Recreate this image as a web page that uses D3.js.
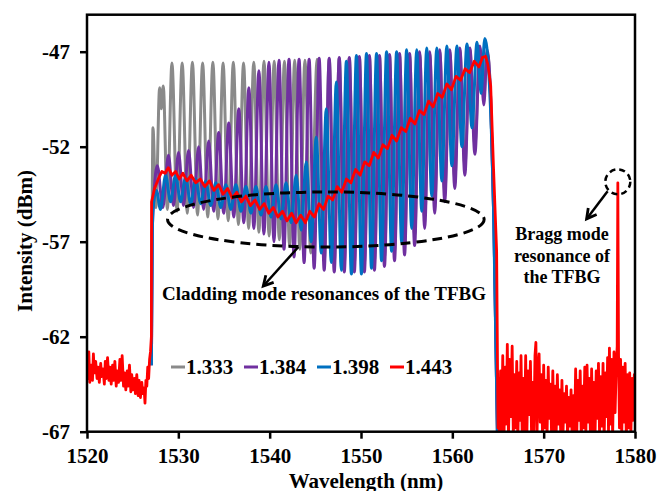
<!DOCTYPE html>
<html><head><meta charset="utf-8">
<script src="https://cdn.jsdelivr.net/npm/d3@7"></script>
<style>
body{margin:0;background:#fff;}
svg{display:block;font-family:"Liberation Serif","Times New Roman",serif;font-weight:bold;}
</style></head>
<body><svg id="chart" width="657" height="491"></svg>
<script>
// ---------- data ----------
const xTicks = [1520,1530,1540,1550,1560,1570,1580];
const yTicks = [-47,-52,-57,-62,-67];
const seriesNames = ["1.333","1.384","1.398","1.443"];
const seriesColors = ["#8a8a8a","#7030a0","#0070c0","#ff0000"];

const gray1333 = [[1527.05,-63.5],[1527.12,-57],[1527.22,-51.0],[1527.55,-55.2],[1527.95,-48.9],[1528.13,-50.0],[1528.35,-48.8],[1528.8,-55.3],[1529.3,-47.6],[1529.86,-55.4],[1530.42,-47.6],[1530.98,-55.5],[1531.54,-47.55],[1532.1,-55.6],[1532.66,-47.6],[1533.22,-55.7],[1533.78,-47.55],[1534.34,-55.8],[1534.9,-47.6],[1535.46,-55.9],[1536.02,-47.55],[1536.58,-56.1],[1537.14,-47.6],[1537.7,-56.3],[1538.26,-47.55],[1538.82,-56.5],[1539.38,-47.5],[1539.94,-56.7],[1540.5,-47.5],[1541.06,-56.9],[1541.62,-47.5],[1542.18,-57.2],[1542.74,-47.45],[1543.3,-57.4],[1543.86,-47.45],[1544.5,-57.6],[1545.2,-47.4],[1545.97,-58.0],[1546.52,-47.4],[1547.07,-58.1],[1547.62,-47.35],[1548.17,-58.1],[1548.72,-47.35],[1549.27,-58.1],[1549.82,-47.3],[1550.37,-58.1],[1550.92,-47.3],[1551.47,-58.0],[1552.02,-47.25],[1552.57,-57.8],[1553.12,-47.2],[1553.67,-57.5],[1554.22,-47.2],[1554.77,-57.2],[1555.32,-47.15],[1555.87,-56.7],[1556.42,-47.1],[1556.97,-55.8],[1557.52,-47.1],[1558.07,-55.0],[1558.62,-47.0],[1559.17,-54.4],[1559.72,-47.0],[1560.27,-53.7],[1560.82,-46.9],[1561.37,-53.0],[1561.92,-46.9],[1562.47,-51.9],[1563.02,-46.8],[1563.45,-49.4],[1563.8,-47.0],[1564.2,-49.5],[1564.55,-56],[1564.95,-67.5]];

const purple1384 = [[1527.05,-63.5],[1527.15,-56.5],[1527.3,-54.8],[1527.7,-53.0],[1528.3,-55.2],[1528.92,-52.45],[1529.47,-55.1],[1530.02,-52.3],[1530.57,-55.1],[1531.12,-52.2],[1531.67,-55.2],[1532.22,-52.0],[1532.77,-55.3],[1533.32,-51.7],[1533.87,-55.4],[1534.42,-51.25],[1534.97,-55.5],[1535.52,-50.75],[1536.07,-55.7],[1536.62,-50.0],[1537.17,-56.0],[1537.72,-48.9],[1538.27,-56.3],[1538.82,-48.0],[1539.37,-56.6],[1539.92,-47.55],[1540.47,-57.0],[1541.02,-47.45],[1541.57,-57.4],[1542.12,-47.4],[1542.67,-57.8],[1543.22,-47.4],[1543.77,-58.1],[1544.32,-47.4],[1544.87,-58.4],[1545.42,-47.35],[1545.97,-58.5],[1546.52,-47.35],[1547.07,-58.6],[1547.62,-47.3],[1548.17,-58.6],[1548.72,-47.3],[1549.27,-58.6],[1549.82,-47.25],[1550.37,-58.6],[1550.92,-47.2],[1551.47,-58.5],[1552.02,-47.2],[1552.57,-58.3],[1553.12,-47.15],[1553.67,-58.0],[1554.22,-47.1],[1554.77,-57.7],[1555.32,-47.1],[1555.87,-57.2],[1556.42,-47.0],[1556.97,-56.3],[1557.52,-47.0],[1558.07,-55.5],[1558.62,-46.9],[1559.17,-54.9],[1559.72,-46.9],[1560.27,-54.2],[1560.82,-46.8],[1561.37,-53.5],[1561.92,-46.8],[1562.47,-52.4],[1563.02,-46.7],[1563.45,-49.8],[1563.8,-46.9],[1564.2,-49.5],[1564.55,-56],[1564.95,-67.5]];

const blue1398 = [[1527.05,-63.5],[1527.15,-56.5],[1527.25,-55.2],[1527.6,-54.3],[1528.05,-55.3],[1528.6,-53.5],[1529.15,-54.9],[1529.7,-53.5],[1530.25,-54.9],[1530.8,-53.6],[1531.35,-55.0],[1531.9,-53.7],[1532.45,-55.0],[1533.0,-53.8],[1533.55,-55.1],[1534.1,-53.9],[1534.65,-55.2],[1535.2,-54.0],[1535.75,-55.3],[1536.3,-54.0],[1536.85,-55.4],[1537.4,-54.1],[1537.95,-55.5],[1538.5,-54.1],[1539.05,-55.6],[1539.6,-54.1],[1540.15,-55.7],[1540.7,-54.0],[1541.25,-55.8],[1541.8,-53.9],[1542.35,-56.0],[1542.9,-53.5],[1543.45,-56.4],[1544.0,-52.8],[1544.55,-57.0],[1545.1,-51.5],[1545.65,-57.6],[1546.2,-50.0],[1546.75,-58.1],[1547.3,-48.6],[1547.85,-58.5],[1548.4,-47.5],[1548.95,-58.7],[1549.5,-47.2],[1550.05,-58.7],[1550.6,-47.1],[1551.15,-58.4],[1551.7,-47.1],[1552.25,-58.0],[1552.8,-47.0],[1553.35,-57.5],[1553.9,-47.0],[1554.45,-57.0],[1555.0,-46.9],[1555.55,-56.3],[1556.1,-46.9],[1556.65,-55.4],[1557.2,-46.8],[1557.75,-54.6],[1558.3,-46.8],[1558.85,-53.8],[1559.4,-46.7],[1559.95,-53.0],[1560.5,-46.7],[1561.05,-52.0],[1561.6,-46.6],[1562.15,-51.0],[1562.7,-46.5],[1563.15,-49.2],[1563.55,-46.3],[1564.0,-48.2],[1564.5,-55],[1564.95,-67.5]];

const red1443 = [[1520.0,-63.0],[1520.1,-64.2],[1520.2,-62.8],[1520.3,-64.4],[1520.45,-63.5],[1520.6,-64.3],[1520.7,-62.9],[1520.8,-63.9],[1520.95,-63.3],[1521.1,-64.2],[1521.2,-63.6],[1521.35,-64.4],[1521.5,-63.4],[1521.6,-64.1],[1521.75,-63.7],[1521.9,-64.5],[1522.0,-63.3],[1522.1,-64.2],[1522.25,-63.1],[1522.4,-64.3],[1522.5,-63.6],[1522.65,-64.5],[1522.8,-63.5],[1522.9,-64.3],[1523.05,-63.3],[1523.2,-64.6],[1523.3,-63.8],[1523.45,-64.4],[1523.6,-63.2],[1523.7,-64.3],[1523.85,-63.0],[1524.0,-64.6],[1524.1,-63.9],[1524.25,-64.8],[1524.4,-63.8],[1524.5,-64.6],[1524.65,-63.5],[1524.8,-64.9],[1524.9,-64.0],[1525.05,-64.8],[1525.2,-64.2],[1525.3,-65.0],[1525.45,-64.0],[1525.6,-65.1],[1525.7,-64.3],[1525.85,-65.2],[1526.0,-64.4],[1526.1,-65.0],[1526.25,-64.7],[1526.35,-65.5],[1526.45,-64.3],[1526.55,-64.6],[1526.65,-63.6],[1526.75,-64.2],[1526.85,-63.2],[1526.95,-62.8],[1527.05,-62.0],[1527.07,-54.9],[1527.4,-54.2],[1527.8,-53.7],[1528.2,-53.3],[1528.55,-53.4],[1528.9,-53.1],[1529.3,-53.5],[1529.7,-53.3],[1530.1,-53.7],[1530.5,-53.4],[1530.95,-53.8],[1531.4,-53.5],[1531.9,-53.9],[1532.4,-53.7],[1532.9,-54.1],[1533.4,-53.8],[1533.9,-54.3],[1534.4,-54.0],[1534.9,-54.5],[1535.4,-54.2],[1535.9,-54.7],[1536.4,-54.4],[1536.9,-54.9],[1537.4,-54.6],[1537.9,-55.1],[1538.4,-54.8],[1538.9,-55.3],[1539.4,-55.0],[1539.9,-55.5],[1540.4,-55.2],[1540.9,-55.7],[1541.4,-55.4],[1541.9,-55.9],[1542.4,-55.5],[1542.9,-56.0],[1543.4,-55.6],[1543.9,-56.0],[1544.4,-55.4],[1544.9,-55.7],[1545.4,-55.0],[1545.9,-55.3],[1546.4,-54.6],[1546.9,-54.8],[1547.4,-54.1],[1547.9,-54.4],[1548.4,-53.7],[1548.9,-53.9],[1549.4,-53.2],[1549.9,-53.5],[1550.4,-52.8],[1550.9,-53.0],[1551.4,-52.3],[1551.9,-52.6],[1552.4,-51.9],[1552.9,-52.1],[1553.4,-51.4],[1553.9,-51.7],[1554.4,-51.0],[1554.9,-51.2],[1555.4,-50.5],[1555.9,-50.8],[1556.4,-50.1],[1556.9,-50.3],[1557.4,-49.6],[1557.9,-49.9],[1558.4,-49.2],[1558.9,-49.4],[1559.4,-48.7],[1559.9,-49.0],[1560.4,-48.3],[1560.9,-48.5],[1561.4,-47.9],[1561.9,-48.1],[1562.4,-47.5],[1562.9,-47.8],[1563.3,-47.3],[1563.65,-47.25],[1563.9,-47.7],[1564.2,-48.8],[1564.5,-53.0],[1564.85,-57.5],[1565.0,-66.8],[1565.05,-64.2],[1565.15,-67.4],[1565.28,-63.8],[1565.4,-66.9],[1565.52,-63.0],[1565.65,-67.5],[1565.78,-63.6],[1565.9,-66.6],[1566.02,-62.4],[1566.15,-67.4],[1566.27,-63.2],[1566.4,-66.2],[1566.55,-62.5],[1566.68,-67.3],[1566.8,-64.0],[1566.92,-66.8],[1567.05,-63.3],[1567.17,-67.5],[1567.3,-63.9],[1567.42,-66.4],[1567.52,-63.0],[1567.65,-67.2],[1567.78,-64.2],[1567.9,-66.9],[1568.03,-63.0],[1568.15,-67.5],[1568.28,-63.8],[1568.4,-66.1],[1568.55,-63.3],[1568.68,-67.4],[1568.8,-64.4],[1568.92,-67.0],[1569.05,-63.0],[1569.15,-62.3],[1569.27,-67.3],[1569.4,-63.6],[1569.5,-62.9],[1569.62,-66.5],[1569.75,-64.0],[1569.88,-67.4],[1570.0,-63.5],[1570.12,-66.8],[1570.25,-64.3],[1570.37,-67.2],[1570.5,-63.6],[1570.62,-66.3],[1570.75,-64.5],[1570.88,-67.5],[1571.0,-63.8],[1571.12,-66.9],[1571.25,-64.6],[1571.37,-67.1],[1571.5,-64.0],[1571.62,-66.6],[1571.75,-64.8],[1571.88,-67.4],[1572.0,-64.3],[1572.12,-67.0],[1572.25,-65.0],[1572.37,-66.5],[1572.5,-64.6],[1572.62,-67.3],[1572.75,-65.2],[1572.87,-66.7],[1573.0,-64.8],[1573.12,-67.4],[1573.25,-65.1],[1573.38,-66.9],[1573.5,-63.7],[1573.62,-67.2],[1573.75,-64.3],[1573.87,-66.4],[1574.0,-63.8],[1574.12,-67.5],[1574.25,-64.6],[1574.37,-66.8],[1574.5,-63.6],[1574.62,-67.1],[1574.75,-63.5],[1574.88,-66.5],[1575.0,-64.2],[1575.12,-67.3],[1575.25,-63.7],[1575.37,-66.9],[1575.5,-64.4],[1575.62,-67.4],[1575.75,-63.8],[1575.88,-66.3],[1576.0,-63.4],[1576.12,-67.2],[1576.25,-64.1],[1576.38,-66.7],[1576.5,-63.4],[1576.62,-67.5],[1576.75,-63.9],[1576.88,-66.2],[1577.0,-63.1],[1577.1,-67.0],[1577.2,-62.6],[1577.32,-66.6],[1577.45,-63.2],[1577.55,-67.3],[1577.7,-62.8],[1577.82,-66.0],[1577.95,-63.5],[1578.05,-62.5],[1578.12,-53.9],[1578.2,-63.0],[1578.3,-66.8],[1578.42,-63.2],[1578.55,-67.2],[1578.68,-63.6],[1578.8,-66.5],[1578.92,-63.4],[1579.05,-67.4],[1579.18,-64.0],[1579.3,-66.8],[1579.42,-63.9],[1579.55,-67.1],[1579.68,-64.2],[1579.8,-66.4],[1579.92,-64.0],[1580.0,-65.0]];

const cladText = "Cladding mode resonances of the TFBG";
const braggText = ["Bragg mode","resonance of","the TFBG"];
const xTitle = "Wavelength (nm)";
const yTitle = "Intensity (dBm)";

// ---------- drawing ----------
const svg = d3.select("#chart");
const X0 = 87, X1 = 635, Y0 = 431.7, Y1 = 13.7;
const x = d3.scaleLinear().domain([1520,1580]).range([X0,X1]);
const y = d3.scaleLinear().domain([-67,-45]).range([Y0,Y1]);

svg.append("clipPath").attr("id","clip").append("rect")
  .attr("x",X0).attr("y",Y1).attr("width",X1-X0).attr("height",Y0-Y1);

const smooth = d3.line().x(d=>x(d[0])).y(d=>y(d[1])).curve(d3.curveMonotoneX);
const jag = d3.line().x(d=>x(d[0])).y(d=>y(d[1])).curve(d3.curveLinear);

const g = svg.append("g").attr("clip-path","url(#clip)");
const all = [gray1333, purple1384, blue1398];
all.forEach((s,i)=>{
  g.append("path").datum(s).attr("d",smooth).attr("fill","none")
    .attr("stroke",seriesColors[i]).attr("stroke-width",3).attr("stroke-linejoin","round");
});
g.append("path").datum(red1443).attr("d",jag).attr("fill","none")
  .attr("stroke",seriesColors[3]).attr("stroke-width",2.8).attr("stroke-linejoin","round");

// axes
const xa = svg.append("g").attr("transform",`translate(0,${Y0})`)
  .call(d3.axisBottom(x).tickValues(xTicks).tickSize(7).tickPadding(9).tickFormat(d3.format("d")));
const ya = svg.append("g").attr("transform",`translate(${X0},0)`)
  .call(d3.axisLeft(y).tickValues(yTicks).tickSize(7).tickPadding(10).tickFormat(d=>d));
[xa,ya].forEach(a=>{
  a.select(".domain").remove();
  a.selectAll(".tick line").attr("stroke","#000").attr("stroke-width",2.5);
  a.selectAll("text").attr("font-family","Liberation Serif, Times New Roman, serif")
    .attr("font-weight","bold").attr("font-size",21).attr("fill","#000");
});
svg.append("rect").attr("x",X0).attr("y",Y1+1).attr("width",X1-X0).attr("height",Y0-Y1-1)
  .attr("fill","none").attr("stroke","#000").attr("stroke-width",2.5);

// titles
svg.append("text").attr("x",366).attr("y",488).attr("text-anchor","middle")
  .attr("font-size",21).text(xTitle);
svg.append("text").attr("transform","translate(32,241) rotate(-90)").attr("text-anchor","middle")
  .attr("font-size",21).text(yTitle);

// legend
const lg = svg.append("g");
seriesNames.forEach((n,i)=>{
  const lx = 171 + i*73;
  lg.append("line").attr("x1",lx).attr("x2",lx+14).attr("y1",367).attr("y2",367)
    .attr("stroke",seriesColors[i]).attr("stroke-width",3);
  lg.append("text").attr("x",lx+15).attr("y",374).attr("font-size",21).text(n);
});

// annotations (placed in data units)
svg.append("ellipse").attr("cx",x(1546.15)).attr("cy",y(-55.83))
  .attr("rx",x(1537.33)-x(1520)).attr("ry",y(-67)-y(-65.55))
  .attr("fill","none").attr("stroke","#000").attr("stroke-width",3).attr("stroke-dasharray","10,6");

function arrow(x1,y1,x2,y2){
  svg.append("line").attr("x1",x1).attr("y1",y1).attr("x2",x2).attr("y2",y2)
    .attr("stroke","#000").attr("stroke-width",2.5);
  const a = Math.atan2(y2-y1,x2-x1), L = 11, w = 0.5;
  const p = [[x2-L*Math.cos(a-w),y2-L*Math.sin(a-w)],[x2,y2],[x2-L*Math.cos(a+w),y2-L*Math.sin(a+w)]];
  svg.append("path").attr("d",d3.line()(p)).attr("fill","none").attr("stroke","#000")
    .attr("stroke-width",2.8).attr("stroke-linejoin","miter");
}
arrow(x(1543.14),y(-57.28),x(1539.3),y(-59.33));

svg.append("text").attr("x",324).attr("y",300).attr("text-anchor","middle")
  .attr("font-size",19).text(cladText);

svg.append("circle").attr("cx",x(1578.12)).attr("cy",y(-53.85)).attr("r",12.5)
  .attr("fill","none").attr("stroke","#000").attr("stroke-width",2.5).attr("stroke-dasharray","6,4");
arrow(x(1577.0),y(-54.35),x(1574.7),y(-55.8));

braggText.forEach((t,i)=>{
  svg.append("text").attr("x",562).attr("y",240+i*21.5).attr("text-anchor","middle")
    .attr("font-size",18).text(t);
});
</script></body></html>
